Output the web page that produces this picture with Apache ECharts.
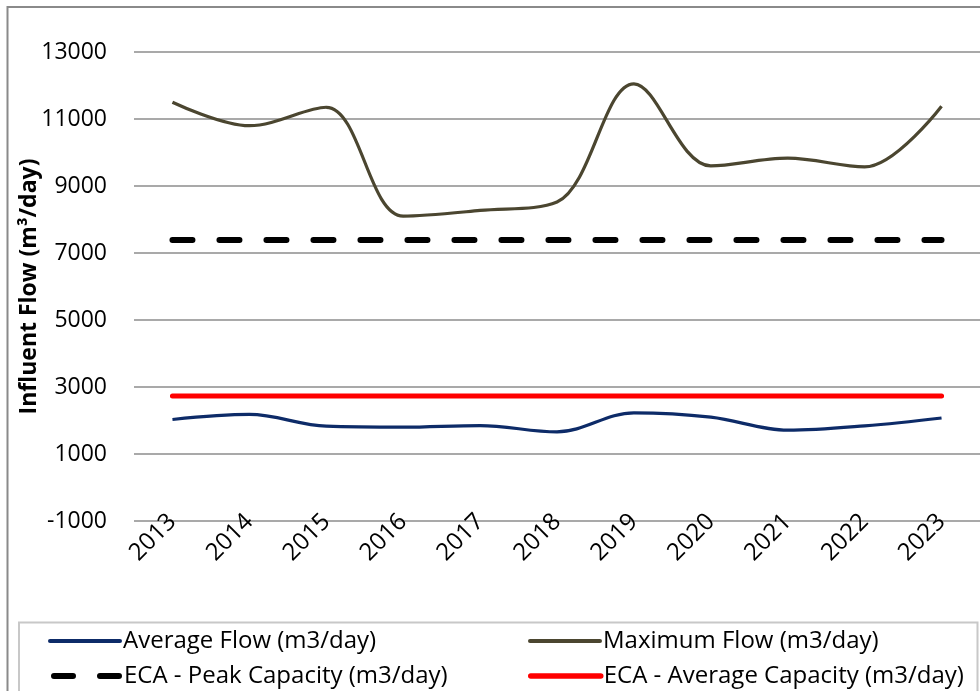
<!DOCTYPE html>
<html>
<head>
<meta charset="utf-8">
<script src="https://cdn.jsdelivr.net/npm/echarts@6/dist/echarts.min.js"></script>
<style>
  html, body { margin: 0; padding: 0; background: #ffffff; }
  #chart { width: 980px; height: 691px; }
</style>
</head>
<body>
<div id="chart"></div>
<script>
// Yearly influent flow record
const years = ['2013', '2014', '2015', '2016', '2017', '2018', '2019', '2020', '2021', '2022', '2023'];
const averageFlow = [2030, 2180, 1830, 1800, 1850, 1660, 2230, 2100, 1710, 1840, 2075];
const maximumFlow = [11500, 10800, 11350, 8100, 8270, 8520, 12050, 9600, 9830, 9570, 11380];
const peakCapacity = 7390;
const averageCapacity = 2730;
const yTicks = { min: -1000, max: 13000, step: 2000 };

const names = {
  avg: 'Average Flow (m3/day)',
  max: 'Maximum Flow (m3/day)',
  peak: 'ECA - Peak Capacity (m3/day)',
  cap: 'ECA - Average Capacity (m3/day)'
};

const FONT = '"Open Sans", "Noto Sans", sans-serif';
const chart = echarts.init(document.getElementById('chart'), null, { renderer: 'canvas' });

function legendAt(name, left, top, lineStyle) {
  return {
    data: [name],
    left: left,
    top: top,
    padding: 0,
    itemWidth: 70,
    itemHeight: 14,
    itemGap: 0,
    itemStyle: { opacity: 0 },
    lineStyle: lineStyle,
    textStyle: { fontFamily: FONT, fontSize: 24, color: '#000', padding: [0, 0, 0, -2], lineHeight: 28 }
  };
}

chart.setOption({
  animation: false,
  backgroundColor: '#ffffff',
  textStyle: { fontFamily: FONT },
  grid: { left: 134, right: 0, top: 52, bottom: 170, containLabel: false },
  graphic: [
    {
      type: 'rect', silent: true, z: -1,
      shape: { x: 7.5, y: 7, width: 1100, height: 800 },
      style: { fill: 'none', stroke: '#8a8a8a', lineWidth: 2 }
    },
    {
      type: 'rect', silent: true, z: -1,
      shape: { x: 19, y: 622.5, width: 958.5, height: 100 },
      style: { fill: '#ffffff', stroke: '#c8c8c8', lineWidth: 2 }
    }
  ],
  legend: [
    legendAt(names.avg, 48, 627, { width: 4, cap: 'round' }),
    legendAt(names.max, 528, 627, { width: 4, cap: 'round' }),
    legendAt(names.peak, 48, 662, { width: 6, type: [19, 27], cap: 'round', dashOffset: -3 }),
    legendAt(names.cap, 528, 662, { width: 5.5, cap: 'round' })
  ],
  xAxis: {
    type: 'category',
    data: years,
    boundaryGap: true,
    axisLine: { show: false },
    axisTick: { show: false },
    axisLabel: { rotate: 45, fontSize: 24, color: '#000', margin: -3, fontFamily: FONT }
  },
  yAxis: {
    type: 'value',
    min: yTicks.min,
    max: yTicks.max,
    interval: yTicks.step,
    name: 'Influent Flow (m³/day)',
    nameLocation: 'middle',
    nameGap: 93,
    nameMoveOverlap: false,
    nameTextStyle: { fontSize: 23, fontWeight: 'bold', color: '#000', fontFamily: FONT },
    axisLine: { show: false },
    axisTick: { show: false },
    axisLabel: { fontSize: 23, color: '#000', margin: 27, fontFamily: FONT, formatter: v => String(v) },
    splitLine: { lineStyle: { color: '#8c8c8c', width: 1.6 } }
  },
  series: [
    {
      name: names.avg, type: 'line', data: averageFlow, smooth: 0.35,
      symbol: 'none', z: 4,
      lineStyle: { color: '#0D2B68', width: 3.2 }, itemStyle: { color: '#0D2B68' }
    },
    {
      name: names.max, type: 'line', data: maximumFlow, smooth: 0.35,
      symbol: 'none', z: 4,
      lineStyle: { color: '#4B4630', width: 3.2 }, itemStyle: { color: '#4B4630' }
    },
    {
      name: names.peak, type: 'line', data: years.map(() => peakCapacity),
      symbol: 'none', z: 3,
      lineStyle: { color: '#000', width: 6, type: [20, 27], cap: 'round' }, itemStyle: { color: '#000' }
    },
    {
      name: names.cap, type: 'line', data: years.map(() => averageCapacity),
      symbol: 'none', z: 3,
      lineStyle: { color: '#FF0000', width: 5, cap: 'round' }, itemStyle: { color: '#FF0000' }
    }
  ]
});
</script>
</body>
</html>
